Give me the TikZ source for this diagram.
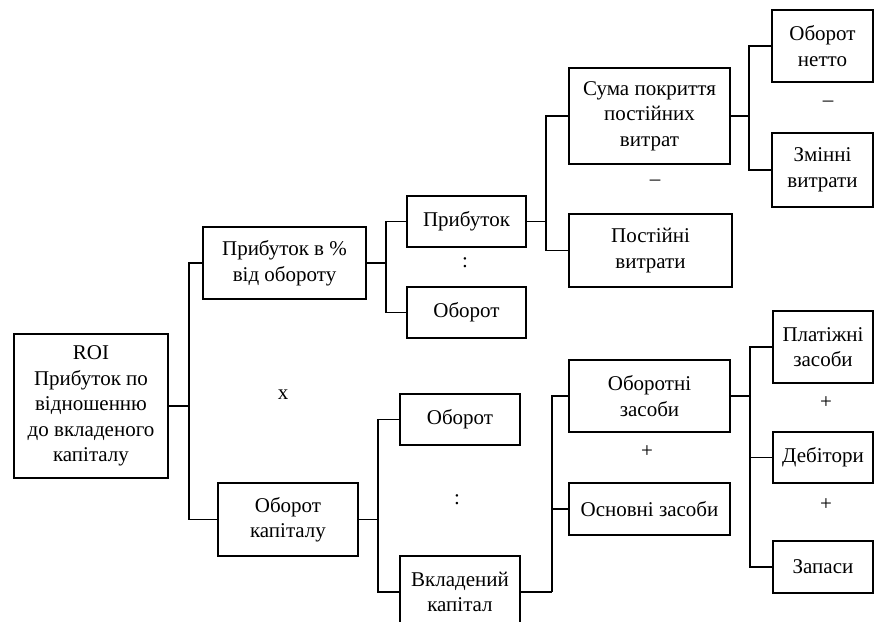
\documentclass[tikz,border=0pt]{standalone}
\usepackage{fontspec}
\setmainfont{Liberation Serif}
\usepackage{tikz}
\usetikzlibrary{positioning}
\tikzset{
    mybox/.style = {rectangle, draw=black, line width=1.8pt, align=center, inner sep=2pt},
    edgel/.style = {draw=black, line width=1.8pt},
    opsign/.style = {inner sep=0pt, font=\fontsize{21}{25.5}\selectfont}
}
\begin{document}
\begin{tikzpicture}[
  x=1pt, y=-1pt,
  font=\fontsize{21}{25.5}\selectfont]
  \useasboundingbox (0,0) rectangle (875,621);
  \clip (0,0) rectangle (875,621);

  \node[mybox, minimum width=154pt, minimum height=144pt] (roi) at (91,406) {ROI\\Прибуток по\\відношенню\\до вкладеного\\капіталу};

  \node[mybox, minimum width=163pt, minimum height=72pt] (pv) at (284.5,263) {Прибуток в \%\\від обороту};
  \node[mybox, minimum width=140pt, minimum height=73pt] (ok) at (288,519.5) {Оборот\\капіталу};

  \node[mybox, minimum width=119pt, minimum height=51pt] (pr) at (466.5,221.5) {Прибуток};
  \node[mybox, minimum width=119pt, minimum height=51pt] (ob1) at (466.5,312.5) {Оборот};
  \node[mybox, minimum width=120pt, minimum height=51pt] (ob2) at (460,419.5) {Оборот};
  \node[mybox, minimum width=120pt, minimum height=72pt] (vk) at (460,592) {Вкладений\\капітал};

  \node[mybox, minimum width=161pt, minimum height=96pt] (sp) at (649.5,116) {Сума покриття\\постійних\\витрат};
  \node[mybox, minimum width=163pt, minimum height=73pt] (pvyt) at (650.5,250.5) {Постійні\\витрати};
  \node[mybox, minimum width=161pt, minimum height=72pt] (oz) at (649.5,396) {Оборотні\\засоби};
  \node[mybox, minimum width=161pt, minimum height=52pt] (osz) at (649.5,509) {Основні засоби};

  \node[mybox, minimum width=101pt, minimum height=72pt] (on) at (822.5,46) {Оборот\\нетто};
  \node[mybox, minimum width=101pt, minimum height=74pt] (zv) at (822.5,170) {Змінні\\витрати};
  \node[mybox, minimum width=100pt, minimum height=72pt] (plz) at (823,347) {Платіжні\\засоби};
  \node[mybox, minimum width=100pt, minimum height=51pt] (deb) at (823,457.5) {Дебітори};
  \node[mybox, minimum width=100pt, minimum height=52pt] (zap) at (823,567) {Запаси};

  % operation signs
  \node[opsign] (s1) at (283,395) {x};
  \node[opsign] (s2) at (465,263) {:};
  \node[opsign] (s3) at (457,500) {:};
  \node[opsign] (s4) at (655,183) {--};
  \node[opsign] (s5) at (828,104) {--};
  \node[opsign] (s6) at (647,452) {+};
  \node[opsign] (s7) at (826,403) {+};
  \node[opsign] (s8) at (826,505) {+};

  % branch points
  \coordinate (j1) at (189,406);
  \coordinate (j2) at (386,263);
  \coordinate (j3) at (378,519.5);
  \coordinate (j4) at (546,221.5);
  \coordinate (j5) at (749,116);
  \coordinate (j6) at (552,592);
  \coordinate (j7) at (750,396);

  \draw[edgel] (roi.east) -- (j1);
  \draw[edgel] (pv.west) -| (j1);
  \draw[edgel] (ok.west) -| (j1);

  \draw[edgel] (pv.east) -- (j2);
  \draw[edgel] (pr.west) -| (j2);
  \draw[edgel] (ob1.west) -| (j2);

  \draw[edgel] (ok.east) -- (j3);
  \draw[edgel] (ob2.west) -| (j3);
  \draw[edgel] (vk.west) -| (j3);

  \draw[edgel] (pr.east) -- (j4);
  \draw[edgel] (sp.west) -| (j4);
  \draw[edgel] (pvyt.west) -| (j4);

  \draw[edgel] (sp.east) -- (j5);
  \draw[edgel] (on.west) -| (j5);
  \draw[edgel] (zv.west) -| (j5);

  \draw[edgel] (vk.east) -- (j6);
  \draw[edgel] (oz.west) -| (j6);
  \draw[edgel] (osz.west) -| (j6);

  \draw[edgel] (oz.east) -- (j7);
  \draw[edgel] (plz.west) -| (j7);
  \draw[edgel] (deb.west) -| (j7);
  \draw[edgel] (zap.west) -| (j7);
\end{tikzpicture}
\end{document}
